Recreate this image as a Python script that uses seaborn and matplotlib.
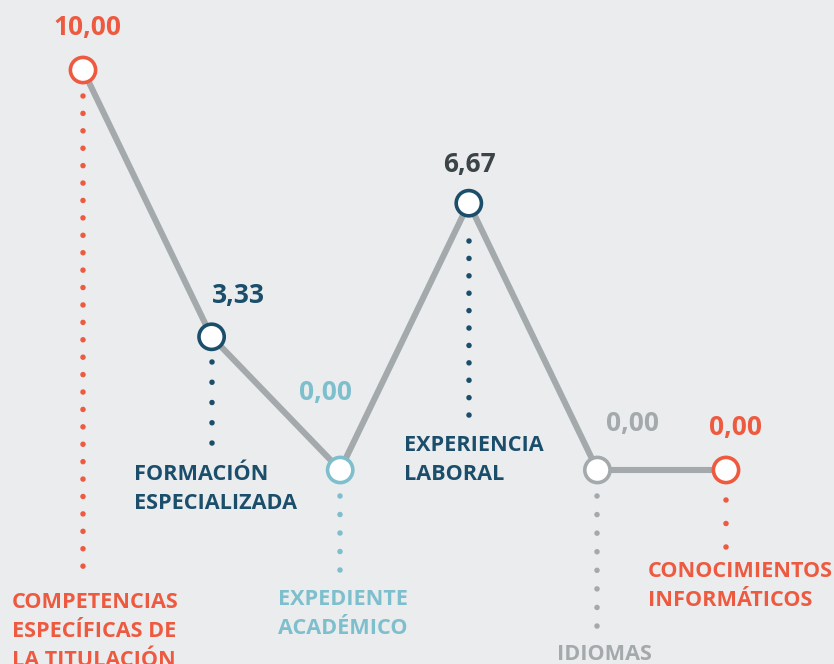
import matplotlib
matplotlib.use("Agg")
import matplotlib.pyplot as plt
import seaborn as sns
import pandas as pd

categories = ["COMPETENCIAS\nESPECÍFICAS DE\nLA TITULACIÓN", "FORMACIÓN\nESPECIALIZADA",
              "EXPEDIENTE\nACADÉMICO", "EXPERIENCIA\nLABORAL", "IDIOMAS",
              "CONOCIMIENTOS\nINFORMÁTICOS"]
values = [10.00, 3.33, 0.00, 6.67, 0.00, 0.00]
value_labels = ["10,00", "3,33", "0,00", "6,67", "0,00", "0,00"]

# styling / layout
colors = ["#EE5A40", "#1B4E6B", "#7DBFCD", "#1B4E6B", "#A4A9AC", "#EE5A40"]
value_colors = ["#EE5A40", "#1B4E6B", "#7DBFCD", "#3B4446", "#A4A9AC", "#EE5A40"]
# value label offsets in px (dx, dy up)
val_off = [(4, 43), (27, 41), (-15, 78), (1, 39), (35, 46), (10, 42)]
# category label offsets in px (dx left edge, dy top below point)
cat_off = [(-71, 522), (-78, 127), (-62, 119), (-65, 232), (-40, 174), (-78, 91)]
# dotted guide: first and last dot offset in px below point, number of gaps
dot_rng = [(26, 496), (25, 106), (26, 100), (38, 212), (26, 156), (30, 77)]
dot_n = [27, 4, 4, 10, 7, 2]

BG = "#EBECEE"
fig = plt.figure(figsize=(8.34, 6.64), dpi=100, facecolor=BG)
ax = fig.add_axes([0, 0, 1, 1])
ax.set_facecolor(BG)

xs = list(range(len(values)))
df = pd.DataFrame({"x": xs, "v": values, "cat": categories})

PX = 1 / 40.0  # data units per pixel vertically
LW = 4.0
for i, (a, b) in enumerate(dot_rng):
    spacing = (b - a) / dot_n[i]
    gap = spacing * 0.72 / LW
    ax.plot([i, i], [values[i] - a * PX, values[i] - (b + 1.0) * PX], color=colors[i],
            lw=LW, linestyle=(0, (0.001, gap)), dash_capstyle="round", zorder=1)

sns.lineplot(data=df, x="x", y="v", ax=ax, color="#A4A9AC", lw=4.4, zorder=2,
             solid_capstyle="round", solid_joinstyle="round")
sns.scatterplot(data=df, x="x", y="v", ax=ax, hue="cat", palette=colors, s=330,
                facecolor="white", linewidth=2.6, legend=False, zorder=3)
coll = ax.collections[-1]
coll.set_facecolor("white")
coll.set_edgecolor(colors)

font = "Open Sans"
for i, v in enumerate(values):
    dx, dy = val_off[i]
    ax.annotate(value_labels[i], (i, v), xytext=(dx * 0.72, dy * 0.72),
                textcoords="offset points", ha="center", va="center",
                fontsize=19, fontweight="bold", color=value_colors[i],
                family=font)
    cx, cy = cat_off[i]
    ax.annotate(categories[i], (i, v), xytext=(cx * 0.72, -cy * 0.72),
                textcoords="offset points", ha="left", va="top",
                fontsize=15.6, fontweight="bold", color=colors[i],
                family=font, linespacing=1.5, annotation_clip=False)

step = 128.6
ax.set_xlim(-83 / step, 5 + (834 - 726) / step)
ax.set_ylim(-(664 - 470) * PX, 10 + 70 * PX)
ax.axis("off")

fig.savefig("out.png", dpi=100, facecolor=BG)
